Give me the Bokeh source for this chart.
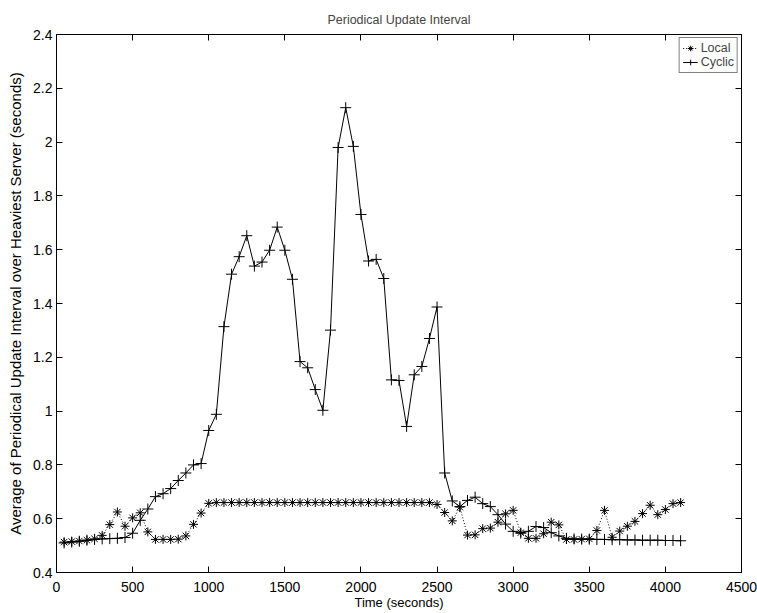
from bokeh.plotting import figure
from bokeh.models import (LinearAxis, Legend, LegendItem, FixedTicker,
                          CustomJSTickFormatter, Range1d)
from bokeh.embed import file_html
from bokeh.resources import INLINE

time_s = [50, 100, 150, 200, 250, 300, 350, 400, 450, 500,
          550, 600, 650, 700, 750, 800, 850, 900, 950, 1000,
          1050, 1100, 1150, 1200, 1250, 1300, 1350, 1400, 1450, 1500,
          1550, 1600, 1650, 1700, 1750, 1800, 1850, 1900, 1950, 2000,
          2050, 2100, 2150, 2200, 2250, 2300, 2350, 2400, 2450, 2500,
          2550, 2600, 2650, 2700, 2750, 2800, 2850, 2900, 2950, 3000,
          3050, 3100, 3150, 3200, 3250, 3300, 3350, 3400, 3450, 3500,
          3550, 3600, 3650, 3700, 3750, 3800, 3850, 3900, 3950, 4000,
          4050, 4100]

local = [0.513, 0.515, 0.517, 0.520, 0.525, 0.538, 0.578, 0.625, 0.572, 0.603,
         0.622, 0.551, 0.523, 0.523, 0.523, 0.524, 0.536, 0.579, 0.621, 0.657,
         0.660, 0.660, 0.660, 0.660, 0.660, 0.660, 0.660, 0.660, 0.660, 0.660,
         0.660, 0.660, 0.660, 0.660, 0.660, 0.660, 0.660, 0.660, 0.660, 0.660,
         0.660, 0.660, 0.660, 0.660, 0.660, 0.660, 0.660, 0.660, 0.660, 0.653,
         0.623, 0.592, 0.643, 0.539, 0.540, 0.563, 0.565, 0.587, 0.618, 0.631,
         0.548, 0.527, 0.527, 0.544, 0.587, 0.577, 0.523, 0.523, 0.524, 0.525,
         0.556, 0.631, 0.531, 0.554, 0.572, 0.590, 0.619, 0.650, 0.615, 0.634,
         0.656, 0.660]

cyclic = [0.510, 0.513, 0.516, 0.520, 0.523, 0.525, 0.526, 0.527, 0.530, 0.546,
          0.594, 0.636, 0.682, 0.693, 0.712, 0.742, 0.770, 0.800, 0.805, 0.928,
          0.988, 1.314, 1.509, 1.574, 1.652, 1.539, 1.554, 1.598, 1.684, 1.598,
          1.490, 1.184, 1.161, 1.080, 1.003, 1.301, 1.980, 2.128, 1.984, 1.731,
          1.558, 1.564, 1.493, 1.116, 1.114, 0.943, 1.135, 1.166, 1.270, 1.387,
          0.770, 0.666, 0.645, 0.668, 0.680, 0.656, 0.645, 0.615, 0.580, 0.553,
          0.546, 0.553, 0.571, 0.567, 0.548, 0.536, 0.527, 0.525, 0.524, 0.524,
          0.523, 0.523, 0.522, 0.522, 0.521, 0.521, 0.520, 0.520, 0.520, 0.519,
          0.519, 0.518]

x_ticks = [0, 500, 1000, 1500, 2000, 2500, 3000, 3500, 4000, 4500]
y_ticks = [0.4, 0.6, 0.8, 1.0, 1.2, 1.4, 1.6, 1.8, 2.0, 2.2, 2.4]

title_text = "Periodical Update Interval"
x_label = "Time (seconds)"
y_label = "Average of Periodical Update Interval over Heaviest Server (seconds)"

FONT = "Liberation Sans"

p = figure(width=757, height=613, output_backend="svg", toolbar_location=None,
           x_range=Range1d(0, 4500), y_range=Range1d(0.4, 2.4),
           min_border_left=56, min_border_right=16, min_border_top=34,
           min_border_bottom=41)

p.title.text = title_text
p.title.align = "center"
p.title.text_font = FONT
p.title.text_font_size = "12.5px"
p.title.text_font_style = "normal"
p.title.standoff = 15
p.title.vertical_align = "bottom"
p.title.text_line_height = 1.0

p.xgrid.visible = False
p.ygrid.visible = False
p.outline_line_color = "black"
p.outline_line_alpha = 1.0
p.background_fill_color = "white"
p.border_fill_color = "white"

yfmt = CustomJSTickFormatter(code="return String(Number(tick.toFixed(1)));")
blank = CustomJSTickFormatter(code="return '';")


def style_axis(ax):
    ax.axis_line_color = "black"
    ax.major_tick_line_color = "black"
    ax.major_tick_in = 6
    ax.major_tick_out = 0
    ax.minor_tick_line_color = None
    ax.major_label_text_font = FONT
    ax.major_label_text_font_size = "14px"
    ax.major_label_text_color = "black"
    ax.axis_label_text_font = FONT
    ax.axis_label_text_font_size = "13px"
    ax.axis_label_text_font_style = "normal"
    ax.axis_label_text_color = "black"


xa = p.xaxis[0]
xa.ticker = FixedTicker(ticks=x_ticks)
xa.axis_label = x_label
xa.major_label_standoff = 9
xa.axis_label_standoff = 0
style_axis(xa)

ya = p.yaxis[0]
ya.ticker = FixedTicker(ticks=y_ticks)
ya.formatter = yfmt
ya.axis_label = y_label
ya.major_label_standoff = 4
ya.axis_label_standoff = 6
style_axis(ya)
ya.axis_label_text_font_size = "15px"

top = LinearAxis(ticker=FixedTicker(ticks=x_ticks), formatter=blank)
style_axis(top)
top.major_label_standoff = 0
p.add_layout(top, "above")

right = LinearAxis(ticker=FixedTicker(ticks=y_ticks), formatter=blank)
style_axis(right)
right.major_label_standoff = 0
p.add_layout(right, "right")

l_line = p.line(time_s, local, line_color="black", line_width=1, line_dash="1 2")
l_pts = p.scatter(time_s, local, marker="asterisk", size=9, line_color="black",
                  line_width=1)
c_line = p.line(time_s, cyclic, line_color="black", line_width=1)
c_pts = p.scatter(time_s, cyclic, marker="cross", size=11, line_color="black",
                  line_width=1)

legend = Legend(items=[LegendItem(label="Local", renderers=[l_line, l_pts]),
                       LegendItem(label="Cyclic", renderers=[c_line, c_pts])],
                location="top_right")
legend.border_line_color = "black"
legend.border_line_width = 1
legend.background_fill_color = "white"
legend.background_fill_alpha = 1.0
legend.label_text_font = FONT
legend.label_text_font_size = "12.5px"
legend.glyph_width = 15
legend.glyph_height = 14
legend.label_height = 14
legend.spacing = 0
legend.padding = 3
legend.margin = 3
legend.label_standoff = 3
p.add_layout(legend, "center")

open("out.html", "w").write(file_html(p, INLINE))
